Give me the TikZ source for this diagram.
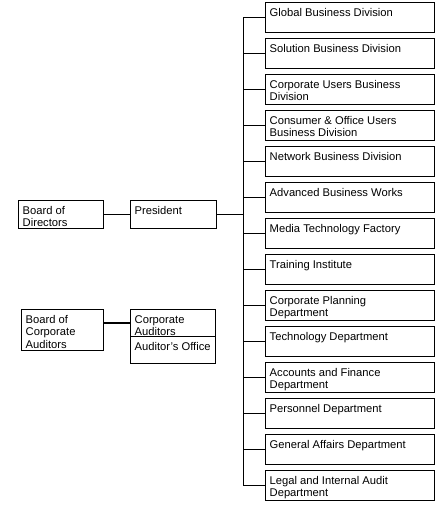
\documentclass[tikz,border=0pt]{standalone}
\usepackage{fontspec}
\setmainfont{Liberation Sans}

\begin{document}
\begin{tikzpicture}[x=1pt, y=-1pt,
    orgbox/.style={draw, line width=1pt, inner sep=0pt, anchor=north west},
    boxtext/.style={anchor=north west, align=left, inner xsep=4.5pt, inner ysep=6.3pt,
        font=\fontsize{11.2}{12.2}\selectfont}]
    \useasboundingbox (0,0) rectangle (441,508);

    % Left column
    \node[orgbox, minimum width=85pt, minimum height=28pt,
        label={[boxtext]north west:Board of\\Directors}] (bod) at (18,200) {};
    \node[orgbox, minimum width=82pt, minimum height=41pt,
        label={[boxtext]north west:Board of\\Corporate\\Auditors}] (bca) at (21,309) {};

    % Middle column
    \node[orgbox, minimum width=86pt, minimum height=28pt,
        label={[boxtext]north west:President}] (pres) at (130,200) {};
    \node[orgbox, minimum width=85pt, minimum height=27pt,
        label={[boxtext]north west:Corporate\\Auditors}] (ca) at (130,309) {};
    \node[orgbox, minimum width=85pt, minimum height=27pt,
        label={[boxtext]north west:Auditor's Office}] (ao) at (130,336) {};

    % Divisions and departments
    \foreach \i/\t in {0/Global Business Division, 1/Solution Business Division,
        2/Corporate Users Business\\Division, 3/Consumer \& Office Users\\Business Division,
        4/Network Business Division, 5/Advanced Business Works,
        6/Media Technology Factory, 7/Training Institute,
        8/Corporate Planning\\Department, 9/Technology Department,
        10/Accounts and Finance\\Department, 11/Personnel Department,
        12/General Affairs Department, 13/Legal and Internal Audit\\Department} {
        \node[orgbox, minimum width=169pt, minimum height=30pt,
            label={[boxtext]north west:\t}] (div\i) at (265,2+36*\i) {};
    }

    % Connections
    \draw[line width=1pt] (bod.east) -- (bod.east -| pres.west);
    \draw[line width=1pt] (pres.east) -- ++(26,0) coordinate (hub);
    \draw[line width=1pt] (hub |- div0.west) -- (hub |- div13.west);
    \foreach \i in {0,...,13} {
        \draw[line width=1pt] (hub |- div\i.west) -- (div\i.west);
    }
    \draw[line width=2pt] (ca.west) -- (ca.west -| bca.east);
\end{tikzpicture}
\end{document}
